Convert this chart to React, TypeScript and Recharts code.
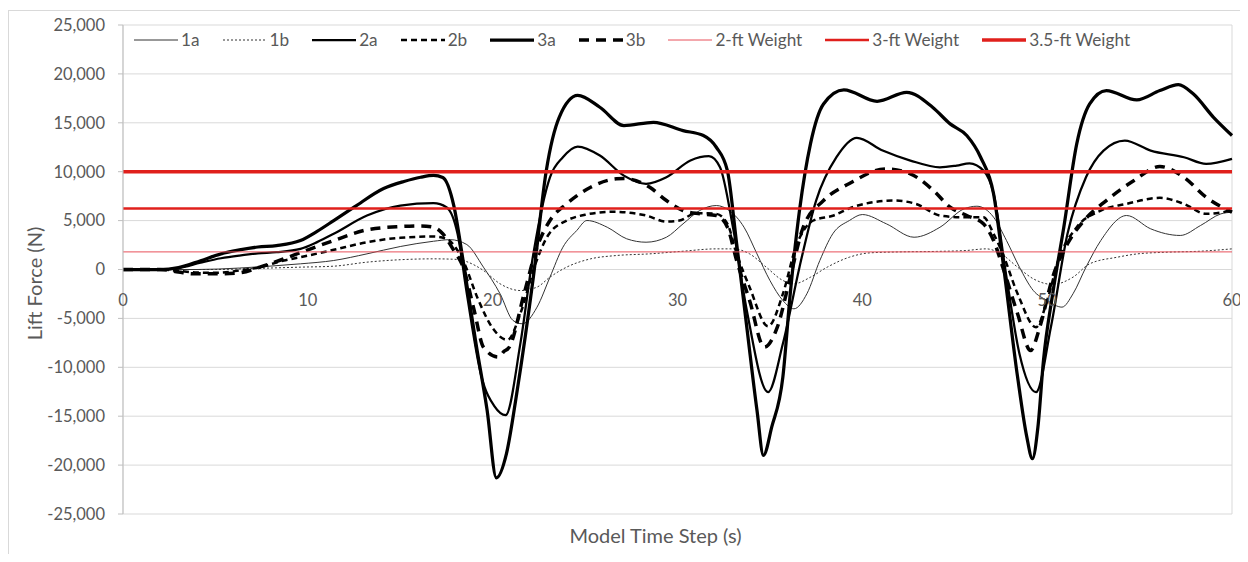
import { LineChart, Line, XAxis, YAxis, CartesianGrid, ReferenceDot } from "recharts";

type Pt = [number, number];

// [time (s), lift force (N)]
const s1a: Pt[] = [
  [0, 0], [4, 0], [6.3, 150], [8, 350], [9.6, 580], [11.4, 920], [13.2, 1600], [15, 2350], [16.8, 2890],
  [17.7, 3050], [18.6, 2550], [19.5, 240], [20.4, -2480], [21.1, -5210], [21.6, -5550], [22.4, -3850],
  [23.1, -780], [23.8, 2280], [24.55, 3990], [25.1, 5010], [26.2, 4320], [27.25, 3140], [28.3, 2790],
  [29.4, 3300], [30.3, 4670], [31.2, 6030], [32.1, 6540], [32.8, 6030], [33.6, 4320], [34.3, 1600],
  [35.0, -1120], [35.7, -3170], [36.3, -4020], [37.0, -2480], [37.7, 920], [38.4, 3650], [39.3, 5010],
  [40.0, 5620], [41.3, 4670], [42.8, 3300], [44.2, 4320], [45.5, 6200], [46.2, 6470], [47.1, 5350],
  [47.8, 2960], [48.5, 240], [49.25, -2150], [50.0, -3170], [50.8, -3850], [51.4, -2480], [52.1, 240],
  [52.9, 2960], [54.3, 5520], [55.6, 4160], [57.2, 3480], [58.3, 4500], [59.4, 5690], [60, 5860],
];

const s1b: Pt[] = [
  [0, 0], [5, 0], [7, 100], [9.6, 240], [11.4, 340], [13.2, 750], [15, 1000], [16.8, 1090], [18.2, 1020],
  [18.6, 800], [19.5, -100], [20.4, -1460], [21.5, -2150], [22.4, -1800], [23.1, -780], [24.0, 240],
  [25.3, 1090], [26.7, 1430], [28.5, 1600], [30.3, 1870], [32.1, 2110], [33.0, 2110], [33.9, 1600],
  [34.8, 240], [35.7, -1120], [36.3, -1460], [37.2, -780], [38.1, 240], [39.3, 1260], [40.4, 1700],
  [42, 1800], [44, 1850], [45.6, 1940], [46.7, 2110], [47.5, 1600], [48.4, 240], [49.25, -950],
  [50.3, -1530], [51.4, -780], [52.3, 580], [53.8, 1260], [54.9, 1600], [56.5, 1770], [58.3, 1870], [60, 2110],
];

const s2a: Pt[] = [
  [0, 0], [2, 0], [3, 150], [4.2, 700], [5.3, 1150], [6.3, 1430], [7.3, 1650], [8.3, 1770], [9.6, 2110],
  [10.5, 2800], [11.4, 3650], [13.2, 5520], [15, 6540], [16.8, 6780], [17.5, 6370], [18.1, 3650],
  [18.6, -2460], [19.4, -11000], [20.1, -14000], [20.7, -14900], [21.5, -7560], [22.2, 1600], [23.1, 9430],
  [23.8, 11480], [24.6, 12570], [25.8, 11650], [27.1, 9600], [28.3, 8760], [29.4, 9430], [30.7, 11140],
  [31.7, 11580], [32.3, 10450], [33.0, 4320], [33.75, -4190], [34.9, -12540], [35.7, -7600], [36.6, 240],
  [37.5, 7050], [38.6, 11480], [39.7, 13460], [41.1, 12160], [42.6, 11140], [44.2, 10450], [45.1, 10630],
  [45.8, 10860], [46.55, 10120], [47.1, 7770], [47.8, -780], [48.5, -8620], [49.4, -12540], [50.2, -5900],
  [51.1, 3650], [52.1, 9430], [53.05, 12160], [54.2, 13180], [55.6, 12160], [57.4, 11480], [58.6, 10800],
  [60, 11310],
];

const s2b: Pt[] = [
  [0, 0], [2, 0], [3, -150], [4, -300], [5.1, -340], [6.3, -100], [7.4, 240], [8.7, 920], [9.6, 1260],
  [11.4, 2010], [13.2, 2790], [15, 3240], [16.8, 3370], [17.5, 3140], [18.1, 1940], [18.4, 920],
  [19.2, -3000], [20.0, -6000], [20.8, -7200], [21.5, -4500], [22.3, 500], [23.0, 3500], [24.0, 5000],
  [25.0, 5600], [26.5, 5900], [28.3, 5520], [29.4, 4900], [30.1, 5000], [31.0, 5760], [32.1, 5690],
  [32.7, 4670], [33.2, 1630], [33.9, -1810], [34.9, -5800], [35.7, -2500], [36.4, 2280], [37.35, 5010],
  [38.4, 5500], [39.5, 6400], [41.7, 7050], [42.9, 6710], [44.2, 5520], [45.3, 5350], [46.55, 5350],
  [47.1, 3650], [47.6, 1600], [48.4, -2480], [49.4, -5900], [50.0, -3170], [50.6, 920], [51.6, 4320],
  [52.9, 6030], [54.3, 6710], [56.1, 7330], [57.4, 6710], [58.6, 5690], [60, 6030],
];

const s3a: Pt[] = [
  [0, 0], [2, 0], [3, 200], [4.2, 900], [5.3, 1600], [6.3, 2000], [7.3, 2300], [8.3, 2450], [9.6, 2960],
  [10.5, 3900], [11.4, 5000], [12.5, 6370], [14.1, 8280], [15.2, 9000], [16.1, 9430], [16.8, 9620],
  [17.3, 9400], [17.9, 6500], [18.4, 900], [19.1, -7600], [19.7, -14400], [20.2, -21300], [20.75, -18800],
  [21.3, -12700], [22.2, -800], [22.9, 10100], [23.6, 15560], [24.6, 17800], [25.8, 16590], [27.1, 14720],
  [28.7, 15050], [30.3, 14200], [31.4, 13700], [32.1, 12500], [32.7, 10100], [33.2, 2650], [33.75, -5900],
  [34.3, -14400], [34.65, -19000], [35.1, -16100], [35.7, -11000], [36.1, -2480], [36.6, 6030],
  [37.2, 12900], [37.9, 16930], [39.0, 18370], [40.8, 17200], [42.4, 18120], [43.8, 16590], [44.75, 14890],
  [45.65, 13700], [46.4, 11480], [47.1, 7740], [47.6, 920], [48.4, -11000], [48.9, -17140], [49.2, -19350],
  [49.5, -16100], [49.8, -9300], [50.3, -2480], [50.9, 4320], [51.6, 12850], [52.3, 16930], [53.2, 18300],
  [54.85, 17340], [56.1, 18300], [57.1, 18900], [57.9, 17960], [59.0, 15560], [60, 13700],
];

const s3b: Pt[] = [
  [0, 0], [2, 0], [3, -250], [3.8, -440], [5.1, -440], [6.3, -340], [7.4, 240], [8.7, 1090], [9.9, 1940],
  [11.4, 2960], [13.2, 4060], [15, 4390], [16.1, 4460], [16.8, 4320], [17.3, 3650], [17.9, 1940],
  [18.4, 240], [19.0, -4190], [19.5, -7940], [20.3, -8960], [20.6, -8400], [20.9, -7940], [21.7, -2480],
  [22.4, 2280], [23.1, 5010], [24.0, 6710], [25.3, 8410], [26.7, 9270], [27.1, 9300], [28.5, 8410],
  [29.4, 7050], [30.3, 6030], [31.2, 5690], [32.1, 5520], [32.7, 4320], [33.2, 920], [33.9, -3170],
  [34.7, -7940], [35.4, -5900], [36.1, -780], [36.8, 4320], [37.9, 7050], [39.3, 8800], [41.3, 10290],
  [42.6, 9780], [43.85, 8070], [44.75, 6370], [45.65, 5520], [46.55, 4670], [47.1, 2960], [47.6, 240],
  [48.4, -4530], [49.1, -8280], [49.6, -5900], [50.3, -780], [51.1, 2630], [52.0, 5010], [53.2, 7050],
  [54.7, 9100], [56.1, 10530], [57.4, 9430], [58.6, 7390], [60, 5860],
];

const weight2ft = 1800;
const weight3ft = 6250;
const weight35ft = 10000;
const timeSpan = [0, 60];

const xTicks = [0, 10, 20, 30, 40, 50, 60];
const yTicks = [-25000, -20000, -15000, -10000, -5000, 0, 5000, 10000, 15000, 20000, 25000];
const yMinorTicks = [
  -25000, -24000, -23000, -22000, -21000, -20000, -19000, -18000, -17000, -16000, -15000, -14000, -13000,
  -12000, -11000, -10000, -9000, -8000, -7000, -6000, -5000, -4000, -3000, -2000, -1000, 0, 1000, 2000,
  3000, 4000, 5000, 6000, 7000, 8000, 9000, 10000, 11000, 12000, 13000, 14000, 15000, 16000, 17000,
  18000, 19000, 20000, 21000, 22000, 23000, 24000, 25000,
];

const FONT = "Lato, 'Open Sans', sans-serif";
const GREY_TEXT = "#595959";

const flat = (v: number): Pt[] => timeSpan.map((t) => [t, v] as Pt);

const series = [
  { name: "1a", pts: s1a, stroke: "#333333", width: 1, dash: undefined as string | undefined },
  { name: "1b", pts: s1b, stroke: "#333333", width: 1, dash: "2 2" },
  { name: "2a", pts: s2a, stroke: "#000000", width: 2.25, dash: undefined },
  { name: "2b", pts: s2b, stroke: "#000000", width: 2.5, dash: "6 4" },
  { name: "3a", pts: s3a, stroke: "#000000", width: 3.25, dash: undefined },
  { name: "3b", pts: s3b, stroke: "#000000", width: 3.5, dash: "10 7" },
  { name: "2-ft Weight", pts: flat(weight2ft), stroke: "#e8505a", width: 1, dash: undefined },
  { name: "3-ft Weight", pts: flat(weight3ft), stroke: "#e0201c", width: 2.5, dash: undefined },
  { name: "3.5-ft Weight", pts: flat(weight35ft), stroke: "#e0201c", width: 3.5, dash: undefined },
];

const YTitle = (props: any) => {
  const vb = props.viewBox || { x: 0, y: 17, width: 115, height: 489 };
  const cx = vb.x + 26;
  const cy = vb.y + vb.height / 2 + 14;
  return (
    <text x={cx} y={cy} transform={`rotate(-90 ${cx} ${cy})`} textAnchor="middle" dominantBaseline="central"
      fill={GREY_TEXT} fontFamily={FONT} fontSize={20}>
      Lift Force (N)
    </text>
  );
};

const XTitle = (props: any) => {
  const vb = props.viewBox || { x: 115, y: 506, width: 1109, height: 40 };
  return (
    <text x={vb.x + vb.width / 2 - 22} y={vb.y + 21} textAnchor="middle" dominantBaseline="central"
      fill={GREY_TEXT} fontFamily={FONT} fontSize={20}>
      Model Time Step (s)
    </text>
  );
};

function LegendRow() {
  return (
    <div style={{ position: "absolute", left: 126, top: 21, display: "flex", alignItems: "center", gap: 23,
      fontFamily: FONT, fontSize: 17.2, color: GREY_TEXT, whiteSpace: "nowrap" }}>
      {series.map((s) => (
        <div key={s.name} style={{ display: "flex", alignItems: "center" }}>
          <svg width={44} height={10}>
            <line x1={0} x2={44} y1={5} y2={5} stroke={s.stroke} strokeWidth={s.width} strokeDasharray={s.dash} />
          </svg>
          <span style={{ marginLeft: 3 }}>{s.name}</span>
        </div>
      ))}
    </div>
  );
}

export default function App() {
  return (
    <div style={{ position: "relative", width: 1240, height: 546, overflow: "hidden" }}>
      <div style={{ position: "absolute", left: 0, top: 2, width: 1300, height: 700, border: "1px solid #d9d9d9" }} />
      <LineChart width={1240} height={546} margin={{ top: 17, right: 16, bottom: 0, left: 0 }}>
        <CartesianGrid stroke="#d9d9d9" horizontal vertical />
        <XAxis dataKey="t" type="number" domain={[0, 60]} ticks={xTicks} height={40} tick={false}
          axisLine={false} tickLine={false} label={<XTitle />} />
        <YAxis type="number" domain={[-25000, 25000]} ticks={yTicks} width={115} tickSize={5} tickMargin={13}
          axisLine={{ stroke: "#bfbfbf" }} tickLine={{ stroke: "#bfbfbf" }}
          tick={{ fill: GREY_TEXT, fontFamily: FONT, fontSize: 16.5 }}
          tickFormatter={(v: number) => v.toLocaleString("en-US")} label={<YTitle />} />
        <YAxis yAxisId="minor" type="number" domain={[-25000, 25000]} ticks={yMinorTicks} mirror width={0}
          tickSize={4} axisLine={false} tickLine={{ stroke: "#bfbfbf" }} tick={() => <g />} />
        {series.map((s) => (
          <Line key={s.name} data={s.pts.map(([t, v]) => ({ t, v }))} dataKey="v" name={s.name}
            type="monotone" stroke={s.stroke} strokeWidth={s.width} strokeDasharray={s.dash}
            dot={false} activeDot={false} isAnimationActive={false} />
        ))}
        {xTicks.map((t) => (
          <ReferenceDot key={t} x={t} y={0} r={0} fill="none" stroke="none"
            label={{ value: String(t), position: "bottom", offset: 25, fill: GREY_TEXT, fontFamily: FONT, fontSize: 16.5 }} />
        ))}
      </LineChart>
      <LegendRow />
    </div>
  );
}
